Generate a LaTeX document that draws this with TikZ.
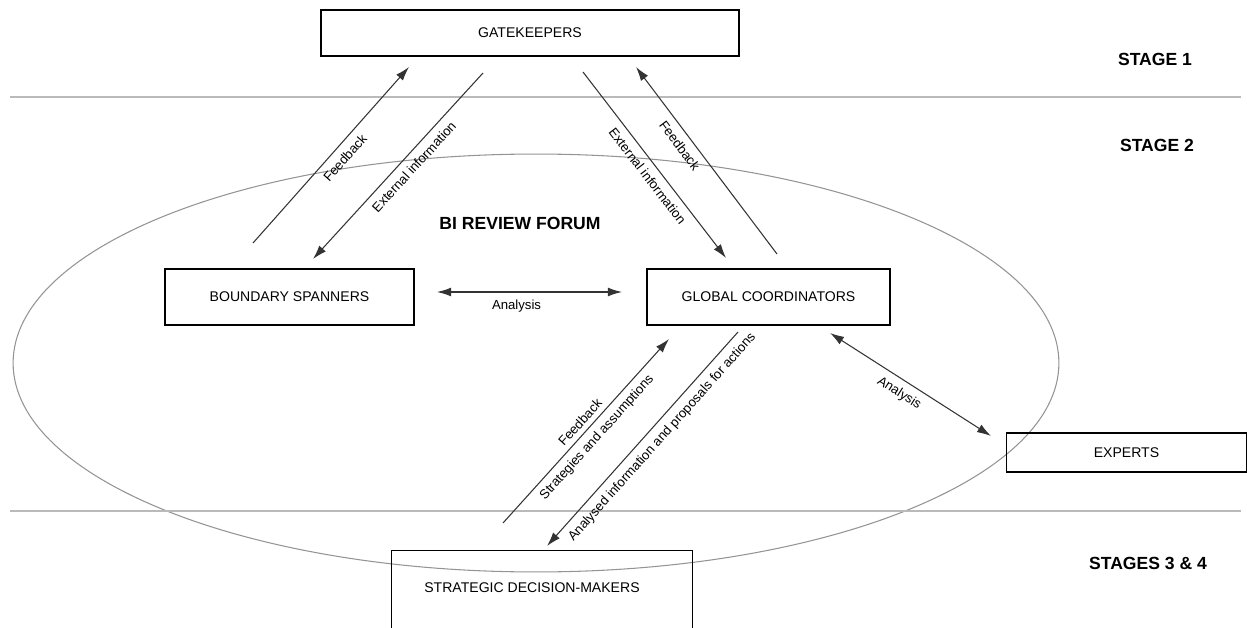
\documentclass[tikz,border=0pt]{standalone}
\usepackage{fontspec}
\setmainfont{Liberation Sans}
\usetikzlibrary{arrows.meta}
\def\px{0.02cm}
\begin{document}
\begin{tikzpicture}[x=0.02cm, y=-0.02cm,
  box/.style={draw=black, line width=0.75pt, inner sep=0pt,
    font=\fontsize{8}{9.6}\selectfont},
  boxtext/.style={inner sep=0pt, font=\fontsize{8}{9.6}\selectfont},
  stagetext/.style={inner sep=0pt, font=\bfseries\fontsize{10}{12}\selectfont},
  stageline/.style={draw=black!27, line width=0.9pt},
  forum/.style={draw=black!42, line width=0.6pt},
  flow/.style={draw=black!80, line width=0.6pt},
  tip/.tip={Latex[length=8pt, width=5pt]},
  lbl/.style={sloped, inner sep=4pt, font=\fontsize{7.5}{9}\selectfont}]

\useasboundingbox (0,0) rectangle (1247,628);

% forum ellipse and stage separators
\draw[forum] (536,363) ellipse [x radius=10.46cm, y radius=4.18cm];
\coordinate (s1l) at (10,97);  \coordinate (s1r) at (1241,97);
\coordinate (s2l) at (10,511); \coordinate (s2r) at (1241,511);
\draw[stageline] (s1l) -- (s1r);
\draw[stageline] (s2l) -- (s2r);

% stage titles
\node[stagetext] (st1) at (1155,59) {STAGE 1};
\node[stagetext] (st2) at (1157,145) {STAGE 2};
\node[stagetext] (st34) at (1148,563) {STAGES 3 \& 4};
\node[stagetext] (forumtitle) at (520,223) {BI REVIEW FORUM};

% actors
\node[box, minimum width=418*\px, minimum height=46*\px] (gk) at (530,33) {GATEKEEPERS};
\node[box, minimum width=249*\px, minimum height=56*\px] (bs) at (289.5,297) {BOUNDARY SPANNERS};
\node[box, minimum width=243*\px, minimum height=56*\px] (gc) at (768.5,297) {GLOBAL COORDINATORS};
\node[box, minimum width=240*\px, minimum height=39*\px] (ex) at (1126.5,452.5) {EXPERTS};
\node[box, minimum width=301*\px, minimum height=150*\px, anchor=north west] (sdm) at (391,550) {};
\node[boxtext] (sdmtext) at (532,588) {STRATEGIC DECISION-MAKERS};

% arrow end points
\coordinate (a1s) at (253,243); \coordinate (a1e) at (409,67);
\coordinate (a2s) at (313,259); \coordinate (a2e) at (483,73);
\coordinate (a3s) at (583,72);  \coordinate (a3e) at (726,258);
\coordinate (a4s) at (636,67);  \coordinate (a4e) at (777,254);
\coordinate (a5s) at (437,292); \coordinate (a5e) at (622,292);
\coordinate (a6s) at (503,523); \coordinate (a6e) at (669,339);
\coordinate (a7s) at (547,546); \coordinate (a7e) at (738,332);
\coordinate (a8s) at (830,333); \coordinate (a8e) at (991,436);

% information flows
\draw[flow, -tip] (a1s) -- (a1e) node[lbl, pos=0.53, below] {Feedback};
\draw[flow, tip-] (a2s) -- (a2e) node[lbl, pos=0.54, below] {External information};
\draw[flow, -tip] (a3s) -- (a3e) node[lbl, pos=0.52, below] {External information};
\draw[flow, tip-] (a4s) -- (a4e) node[lbl, pos=0.38, below] {Feedback};
\draw[flow, tip-tip] (a5s) -- (a5e) node[lbl, pos=0.43, below] {Analysis};
\draw[flow, -tip] (a6s) -- (a6e)
  node[lbl, pos=0.51, above, inner sep=2.8pt] {Feedback}
  node[lbl, pos=0.51, below, inner sep=3.4pt] {Strategies and assumptions};
\draw[flow, tip-] (a7s) -- (a7e) node[lbl, pos=0.55, below] {Analysed information and proposals for actions};
\draw[flow, tip-tip] (a8s) -- (a8e) node[lbl, pos=0.475, below] {Analysis};

\end{tikzpicture}
\end{document}
